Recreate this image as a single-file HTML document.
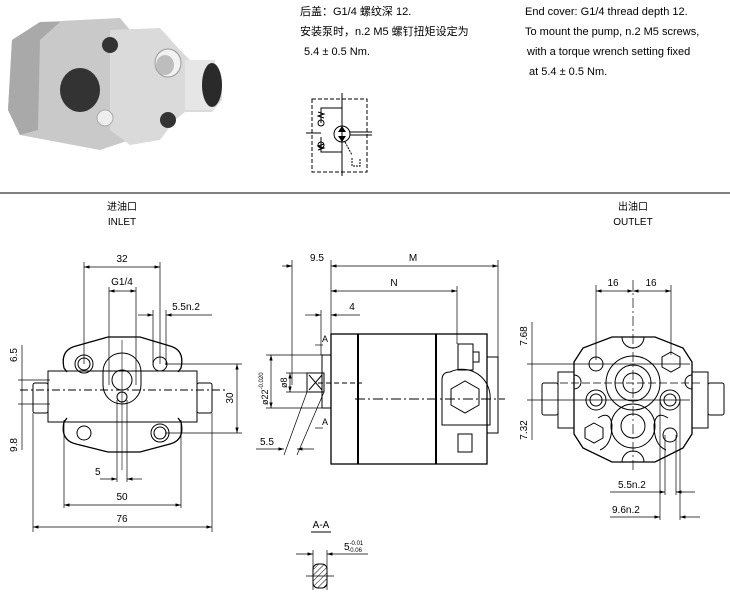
<!DOCTYPE html>
<html><head><meta charset="utf-8"><style>
html,body{margin:0;padding:0;background:#fff;}
svg{display:block;}
text{font-family:"Liberation Sans","Noto Sans CJK SC",sans-serif;fill:#000;}
.t{font-size:10px;}
</style></head><body>
<svg width="730" height="598" viewBox="0 0 730 598" xmlns="http://www.w3.org/2000/svg">
<defs>
<marker id="a" viewBox="0 0 10 6" refX="10" refY="3" markerWidth="8" markerHeight="5" orient="auto-start-reverse"><path d="M0,0L10,3L0,6z" fill="#000"/></marker>
<pattern id="h" width="4" height="4" patternUnits="userSpaceOnUse" patternTransform="rotate(45)"><line x1="0" y1="0" x2="0" y2="4" stroke="#000" stroke-width="1"/></pattern>
</defs>

<!-- photo -->
<g>
<polygon points="12,40 40,22 120,18 130,30 130,140 100,150 20,135 8,110" fill="#c9c9c9"/>
<polygon points="12,40 40,22 60,22 40,40 38,130 20,135 8,110" fill="#a9a9a9"/>
<polygon points="110,30 160,28 180,50 190,60 200,60 215,65 222,80 222,100 212,112 185,112 175,120 160,140 130,145 110,130" fill="#dadada"/>
<ellipse cx="168" cy="63" rx="13" ry="14" fill="#f2f2f2" stroke="#999"/>
<ellipse cx="165" cy="65" rx="9" ry="10" fill="#bdbdbd"/>
<rect x="185" y="60" width="30" height="50" fill="#e6e6e6"/>
<ellipse cx="212" cy="85" rx="10" ry="22" fill="#2a2a2a"/>
<ellipse cx="80" cy="90" rx="20" ry="22" fill="#333"/>
<ellipse cx="110" cy="45" rx="8" ry="8" fill="#333"/>
<ellipse cx="168" cy="120" rx="8" ry="8" fill="#333"/>
<ellipse cx="105" cy="118" rx="8" ry="8" fill="#eee" stroke="#aaa"/>
</g>

<!-- top texts -->
<text x="300" y="15" font-size="11">后盖：G1/4 螺纹深 12.</text>
<text x="300" y="35" font-size="11">安装泵时，n.2 M5 螺钉扭矩设定为</text>
<text x="304" y="55" font-size="11">5.4 ± 0.5 Nm.</text>
<text x="525" y="15" font-size="11">End cover: G1/4 thread depth 12.</text>
<text x="525" y="35" font-size="11">To mount the pump, n.2 M5 screws,</text>
<text x="527" y="55" font-size="11">with a torque wrench setting fixed</text>
<text x="529" y="75" font-size="11">at 5.4 ± 0.5 Nm.</text>

<!-- hydraulic symbol -->
<g fill="none" stroke="#000" stroke-width="1">
<rect x="312" y="99" width="55" height="73" stroke-dasharray="4,2"/>
<line x1="342" y1="93" x2="342" y2="176"/>
<path d="M342,108 H321 V123 M321,137 V152 H342"/>
<circle cx="321" cy="123" r="3"/><circle cx="321" cy="145" r="3"/>
<path d="M318,112 l6,2 l-6,2 l6,2 M318,150 l6,-2 l-6,-2 l6,-2"/>
<line x1="306" y1="133" x2="321" y2="133"/>
<circle cx="342" cy="134" r="8"/>
<path d="M350,132 H372 M350,135 H372"/>
<path d="M345,142 L352,155 M352,158 V166 H360 V158" stroke-dasharray="2,1"/>
</g>
<path d="M338,132 L342,126 L346,132z M338,136 L342,142 L346,136z" fill="#000"/>

<line x1="0" y1="193" x2="730" y2="193" stroke="#000"/>

<text x="122" y="210" class="t" font-size="9" text-anchor="middle">进油口</text>
<text x="122" y="225" class="t" text-anchor="middle">INLET</text>
<text x="633" y="210" class="t" font-size="9" text-anchor="middle">出油口</text>
<text x="633" y="225" class="t" text-anchor="middle">OUTLET</text>

<!-- LEFT VIEW -->
<g fill="none" stroke="#000" stroke-width="1">
<rect x="48" y="371" width="149" height="51"/>
<rect x="33" y="383" width="15" height="30" rx="2"/>
<rect x="197" y="383" width="15" height="30" rx="2"/>
<path d="M108,337 H140 L170,346 Q185,350 181,368 L178,372 M108,337 L76,346 Q60,350 64,368 L67,372 M108,452 H140 L170,444 Q185,440 181,422 L178,418 M108,452 L76,444 Q60,440 64,422 L67,418" stroke-width="1.3"/>
<path d="M103,372 A19,19 0 1 1 141,372 L141,385 A19,19 0 0 1 103,385 Z"/>
<circle cx="122" cy="380" r="10"/>
<circle cx="122" cy="397" r="5"/>
<circle cx="84" cy="364" r="9"/><circle cx="84" cy="364" r="6"/>
<circle cx="160" cy="364" r="7"/>
<circle cx="84" cy="433" r="7"/>
<circle cx="160" cy="433" r="9"/><circle cx="160" cy="433" r="6"/>
<line x1="20" y1="390" x2="225" y2="390" stroke-dasharray="8,3,2,3"/>
<line x1="122" y1="340" x2="122" y2="470" stroke-width="0.6"/>
<!-- dims -->
<g stroke-width="0.7">
<line x1="84" y1="262" x2="84" y2="364"/><line x1="160" y1="262" x2="160" y2="364"/>
<line x1="84" y1="267" x2="160" y2="267" marker-start="url(#a)" marker-end="url(#a)"/>
<line x1="109" y1="287" x2="109" y2="385"/><line x1="136" y1="287" x2="136" y2="385"/>
<line x1="109" y1="291" x2="136" y2="291" marker-start="url(#a)" marker-end="url(#a)"/>
<line x1="153" y1="310" x2="153" y2="365"/><line x1="166" y1="310" x2="166" y2="365"/>
<line x1="138" y1="315" x2="153" y2="315" marker-end="url(#a)"/>
<line x1="166" y1="315" x2="212" y2="315" marker-start="url(#a)"/>
<line x1="165" y1="364" x2="242" y2="364"/><line x1="165" y1="433" x2="242" y2="433"/>
<line x1="237" y1="364" x2="237" y2="433" marker-start="url(#a)" marker-end="url(#a)"/>
<line x1="22" y1="345" x2="22" y2="450"/>
<line x1="18" y1="380" x2="50" y2="380"/><line x1="18" y1="404" x2="50" y2="404"/>
<line x1="117" y1="400" x2="117" y2="482"/><line x1="127" y1="400" x2="127" y2="482"/>
<line x1="100" y1="479" x2="117" y2="479" marker-end="url(#a)"/><line x1="127" y1="479" x2="142" y2="479" marker-start="url(#a)"/>
<line x1="64" y1="420" x2="64" y2="508"/><line x1="181" y1="420" x2="181" y2="508"/>
<line x1="64" y1="505" x2="181" y2="505" marker-start="url(#a)" marker-end="url(#a)"/>
<line x1="33" y1="413" x2="33" y2="532"/><line x1="212" y1="413" x2="212" y2="532"/>
<line x1="33" y1="527" x2="212" y2="527" marker-start="url(#a)" marker-end="url(#a)"/>
</g>
</g>
<text x="122" y="262" class="t" text-anchor="middle">32</text>
<text x="122" y="285" class="t" text-anchor="middle">G1/4</text>
<text x="186" y="310" class="t" text-anchor="middle">5.5n.2</text>
<text x="95" y="475" class="t">5</text>
<text x="122" y="500" class="t" text-anchor="middle">50</text>
<text x="122" y="522" class="t" text-anchor="middle">76</text>
<text transform="translate(233,398) rotate(-90)" class="t" text-anchor="middle">30</text>
<text transform="translate(17,355) rotate(-90)" class="t" text-anchor="middle">6.5</text>
<text transform="translate(17,445) rotate(-90)" class="t" text-anchor="middle">9.8</text>

<!-- MIDDLE VIEW -->
<g fill="none" stroke="#000" stroke-width="1">
<rect x="331" y="334" width="156" height="130" stroke-width="1.3"/>
<line x1="358" y1="334" x2="358" y2="464" stroke-width="2"/>
<line x1="436" y1="334" x2="436" y2="464" stroke-width="2"/>
<path d="M487,357 H498 V433 H487"/>
<path d="M450,372 A28,28 0 0 1 490,400 V425 H442 V380 Q442,372 450,372Z"/>
<polygon points="465,381 479,389 479,405 465,413 451,405 451,389"/>
<rect x="458" y="344" width="15" height="26"/><rect x="473" y="352" width="6" height="10"/>
<rect x="458" y="434" width="14" height="18"/>
<rect x="322" y="355" width="9" height="53"/>
<rect x="307" y="373" width="17" height="19"/>
<path d="M309,375 L322,390 M322,375 L309,390"/>
<line x1="355" y1="399" x2="505" y2="399" stroke-dasharray="10,3,2,3"/>
<line x1="318" y1="383" x2="362" y2="383" stroke-dasharray="5,3"/>
<g stroke-width="0.7">
<line x1="292" y1="260" x2="292" y2="385"/><line x1="331" y1="260" x2="331" y2="334"/><line x1="498" y1="260" x2="498" y2="357"/>
<line x1="290" y1="266" x2="292" y2="266" marker-end="url(#a)"/>
<line x1="282" y1="266" x2="292" y2="266" marker-end="url(#a)"/>
<line x1="331" y1="266" x2="498" y2="266" marker-start="url(#a)" marker-end="url(#a)"/>
<line x1="457" y1="286" x2="457" y2="344"/>
<line x1="331" y1="291" x2="457" y2="291" marker-start="url(#a)" marker-end="url(#a)"/>
<line x1="321" y1="310" x2="321" y2="355"/>
<line x1="305" y1="315" x2="321" y2="315" marker-end="url(#a)"/><line x1="331" y1="315" x2="360" y2="315" marker-start="url(#a)"/>
<line x1="266" y1="355" x2="322" y2="355"/><line x1="266" y1="408" x2="322" y2="408"/>
<line x1="271" y1="355" x2="271" y2="408" marker-start="url(#a)" marker-end="url(#a)"/>
<line x1="286" y1="373" x2="307" y2="373"/><line x1="286" y1="392" x2="307" y2="392"/>
<line x1="290" y1="373" x2="290" y2="392" marker-start="url(#a)" marker-end="url(#a)"/>
<line x1="307" y1="392" x2="284" y2="455"/><line x1="324" y1="392" x2="297" y2="455"/>
<line x1="256" y1="449" x2="284" y2="449" marker-end="url(#a)"/><line x1="297" y1="449" x2="314" y2="449" marker-start="url(#a)"/>
<line x1="315" y1="345" x2="323" y2="345"/><line x1="315" y1="428" x2="323" y2="428"/>
</g>
</g>
<text x="317" y="261" class="t" text-anchor="middle">9.5</text>
<text x="413" y="261" class="t" text-anchor="middle">M</text>
<text x="394" y="286" class="t" text-anchor="middle">N</text>
<text x="352" y="310" class="t" text-anchor="middle">4</text>
<text x="322" y="342" font-size="9">A</text>
<text x="322" y="425" font-size="9">A</text>
<text x="260" y="445" class="t">5.5</text>
<text transform="translate(268,405) rotate(-90)" font-size="9">ø22<tspan font-size="6" dy="-5">-0.020</tspan></text>
<text transform="translate(287,388) rotate(-90)" font-size="9">ø8</text>

<text x="321" y="528" class="t" text-anchor="middle">A-A</text>
<line x1="311" y1="532" x2="331" y2="532" stroke="#000"/>
<text x="344" y="550" class="t">5<tspan font-size="6" dy="-5">-0.01</tspan><tspan font-size="6" dx="-15" dy="7">-0.06</tspan></text>
<g stroke="#000" stroke-width="0.7" fill="none">
<line x1="296" y1="554" x2="313" y2="554" marker-end="url(#a)"/>
<line x1="327" y1="554" x2="368" y2="554" marker-start="url(#a)"/>
<line x1="313" y1="550" x2="313" y2="590"/><line x1="327" y1="550" x2="327" y2="590"/>
<rect x="313" y="564" width="14" height="24" rx="5" fill="url(#h)" stroke-width="1"/>
<line x1="306" y1="576" x2="334" y2="576"/>
</g>

<!-- RIGHT VIEW -->
<g fill="none" stroke="#000" stroke-width="1">
<rect x="558" y="372" width="16" height="56"/><rect x="542" y="383" width="16" height="32" rx="2"/>
<rect x="692" y="372" width="16" height="56"/><rect x="708" y="383" width="16" height="32" rx="2"/>
<polygon points="612,337 655,337 683,348 692,362 692,434 683,448 655,462 612,462 583,448 574,434 574,362 583,348" stroke-width="1.3"/>
<circle cx="633" cy="383" r="27"/><circle cx="633" cy="383" r="18"/><circle cx="633" cy="383" r="10"/>
<circle cx="633" cy="426" r="22"/><circle cx="633" cy="426" r="12"/>
<circle cx="596" cy="364" r="7"/>
<polygon points="671,352 680,357 680,367 671,372 662,367 662,357"/>
<circle cx="596" cy="400" r="10"/><circle cx="596" cy="400" r="6"/>
<circle cx="670" cy="400" r="10"/><circle cx="670" cy="400" r="6"/>
<polygon points="594,423 603,428 603,438 594,443 585,438 585,428"/>
<circle cx="670" cy="435" r="7"/>
<path d="M622,337 A11,11 0 0 0 644,337 M622,462 A11,11 0 0 1 644,462"/>
<path d="M574,375 A7,7 0 0 1 574,389 M692,375 A7,7 0 0 0 692,389"/>
<path d="M598,418 Q610,410 612,425 Q612,445 600,450 M668,418 Q656,410 654,425 Q654,445 666,450"/>
<g stroke-width="0.7">
<line x1="633" y1="280" x2="633" y2="472" stroke-dasharray="10,3,2,3"/>
<line x1="596" y1="285" x2="596" y2="360"/><line x1="671" y1="285" x2="671" y2="355"/>
<line x1="596" y1="291" x2="633" y2="291" marker-start="url(#a)" marker-end="url(#a)"/>
<line x1="633" y1="291" x2="671" y2="291" marker-start="url(#a)" marker-end="url(#a)"/>
<line x1="527" y1="364" x2="690" y2="364"/><line x1="527" y1="400" x2="690" y2="400"/><line x1="560" y1="383" x2="700" y2="383" stroke-dasharray="8,3"/>
<line x1="532" y1="322" x2="532" y2="440"/>
<line x1="660" y1="400" x2="660" y2="520"/><line x1="680" y1="400" x2="680" y2="520"/>
<line x1="665" y1="435" x2="665" y2="495"/><line x1="676" y1="435" x2="676" y2="495"/>
<line x1="610" y1="492" x2="665" y2="492" marker-end="url(#a)"/><line x1="676" y1="492" x2="695" y2="492" marker-start="url(#a)"/>
<line x1="610" y1="517" x2="660" y2="517" marker-end="url(#a)"/><line x1="680" y1="517" x2="700" y2="517" marker-start="url(#a)"/>
</g>
</g>
<text x="613" y="286" class="t" text-anchor="middle">16</text>
<text x="651" y="286" class="t" text-anchor="middle">16</text>
<text transform="translate(527,336) rotate(-90)" class="t" text-anchor="middle">7.68</text>
<text transform="translate(527,430) rotate(-90)" class="t" text-anchor="middle">7.32</text>
<text x="618" y="488" class="t">5.5n.2</text>
<text x="612" y="513" class="t">9.6n.2</text>
</svg>
</body></html>
